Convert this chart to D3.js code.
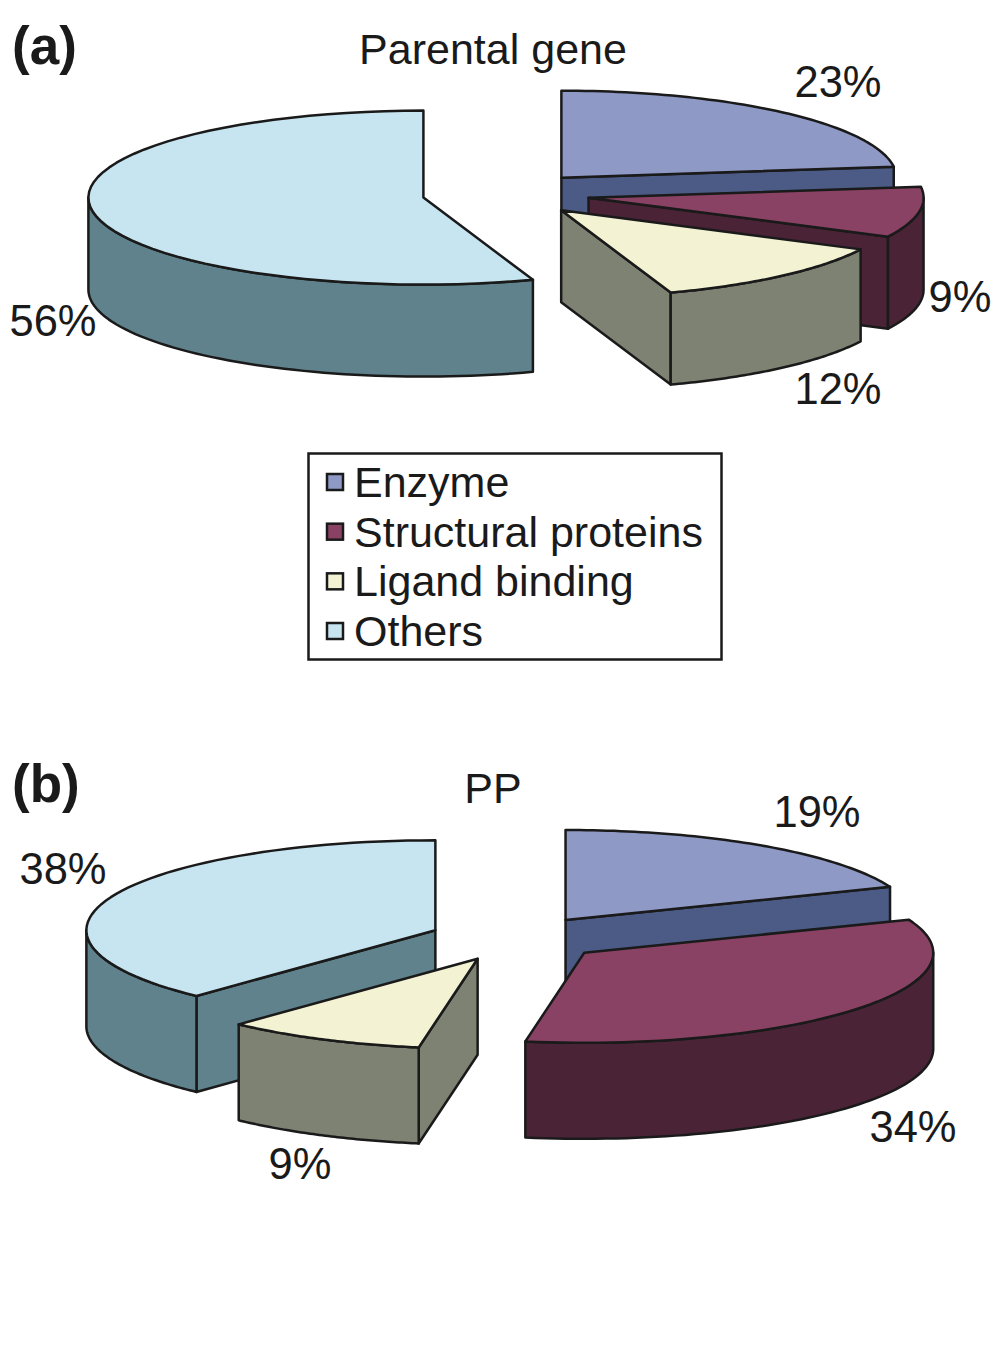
<!DOCTYPE html>
<html>
<head>
<meta charset="utf-8">
<script src="https://cdn.jsdelivr.net/npm/d3@7"></script>
<style>
  html, body { margin: 0; background: #fff; }
  text { font-family: "Liberation Sans", Arial, sans-serif; fill: #1a1a1a; }
</style>
</head>
<body>
<div id="chart"></div>
<script>
// 1. Data
const categories = ["Enzyme", "Structural proteins", "Ligand binding", "Others"]

const parentalShares = [23, 9.4, 12.3, 55.3]
const parentalLabels = ["23%", "9%", "12%", "56%"]
const ppShares = [19, 33.7, 9.3, 38]
const ppLabels = ["19%", "34%", "9%", "38%"]

const topColors = ["#8f99c5", "#8a4264", "#f3f3d4", "#c7e5f0"]
const sideColors = ["#4b5b85", "#4a2337", "#7e8272", "#5f828c"]

// 2. Dimensions
const dimensions = { width: 1000, height: 1360 }
const explode = 0.25
const stroke = "#1a1a1a"

const panels = [
  {
    letter: "(a)", title: "Parental gene", shares: parentalShares, labels: parentalLabels,
    cx: 506, cy: 194, rx: 335, ry: 87, depth: 92, letterY: 64, titleY: 64,
    labelPos: [[838, 97], [960, 312], [838, 404], [53, 336]],
  },
  {
    letter: "(b)", title: "PP", shares: ppShares, labels: ppLabels,
    cx: 516.5, cy: 938.6, rx: 349, ry: 90, depth: 96, letterY: 802, titleY: 803,
    labelPos: [[817, 827], [913, 1142], [300, 1179], [63, 884]],
  },
]

// 3. Draw canvas
const svg = d3.select("#chart")
  .append("svg")
    .attr("width", dimensions.width)
    .attr("height", dimensions.height)

const pie = d3.pie().sort(null).value(d => d)
const line = d3.line()

function drawPanel(p) {
  const g = svg.append("g")
  const point = (a, r = 1) => [r * p.rx * Math.sin(a), -r * p.ry * Math.cos(a)]
  const down = ([x, y]) => [x, y + p.depth]
  const arcPoints = (a0, a1) => d3.range(0, 61).map(i => point(a0 + (a1 - a0) * i / 60))
  const closed = pts => line(pts) + "Z"

  const slices = pie(p.shares).map((d, i) => {
    const mid = (d.startAngle + d.endAngle) / 2
    return { ...d, i, offset: point(mid, explode) }
  }).sort((a, b) => a.offset[1] - b.offset[1])

  const draw = (sel, pts, fill) => sel.append("path")
    .attr("d", closed(pts))
    .attr("fill", fill)
    .attr("stroke", stroke)
    .attr("stroke-width", 2.5)
    .attr("stroke-linejoin", "round")

  slices.forEach(s => {
    const sg = g.append("g")
      .attr("transform", `translate(${p.cx + s.offset[0]},${p.cy + s.offset[1]})`)
    const side = sideColors[s.i]

    // cut faces, only the ones turned to the viewer
    const radial = [[s.startAngle, s.startAngle - Math.PI / 2], [s.endAngle, s.endAngle + Math.PI / 2]]
    radial.forEach(([a, normal]) => {
      if (Math.cos(normal) < -0.01) {
        const rim = point(a)
        draw(sg, [[0, 0], rim, down(rim), [0, p.depth]], side)
      }
    })

    // outer wall, front half of the ellipse
    const a0 = Math.max(s.startAngle, Math.PI / 2)
    const a1 = Math.min(s.endAngle, Math.PI * 1.5)
    if (a1 > a0) {
      const rim = arcPoints(a0, a1)
      draw(sg, rim.concat(rim.map(down).reverse()), side)
    }

    // top
    draw(sg, [[0, 0]].concat(arcPoints(s.startAngle, s.endAngle)), topColors[s.i])
  })

  // percent labels
  g.selectAll(".pct")
    .data(p.labels)
    .enter().append("text")
      .attr("class", "pct")
      .attr("x", (d, i) => p.labelPos[i][0])
      .attr("y", (d, i) => p.labelPos[i][1])
      .attr("text-anchor", "middle")
      .attr("font-size", 43.5)
      .text(d => d)

  g.append("text")
    .attr("x", 493).attr("y", p.titleY)
    .attr("text-anchor", "middle")
    .attr("font-size", 43)
    .text(p.title)

  g.append("text")
    .attr("x", 12).attr("y", p.letterY)
    .attr("font-size", 53)
    .attr("font-weight", "bold")
    .text(p.letter)
}

panels.forEach(drawPanel)

// 4. Legend
const legend = svg.append("g")
legend.append("rect")
  .attr("x", 308.5).attr("y", 453.5)
  .attr("width", 413).attr("height", 206)
  .attr("fill", "#fff")
  .attr("stroke", stroke)
  .attr("stroke-width", 2.5)

const rowY = d3.scalePoint().domain(categories).range([482, 631])

const rows = legend.selectAll(".row")
  .data(categories)
  .enter().append("g")
    .attr("class", "row")
    .attr("transform", d => `translate(0,${rowY(d)})`)

rows.append("rect")
  .attr("x", 327).attr("y", -8)
  .attr("width", 16).attr("height", 16)
  .attr("fill", (d, i) => topColors[i])
  .attr("stroke", stroke)
  .attr("stroke-width", 2.5)

rows.append("text")
  .attr("x", 354).attr("y", 15)
  .attr("font-size", 43)
  .text(d => d)
</script>
</body>
</html>
